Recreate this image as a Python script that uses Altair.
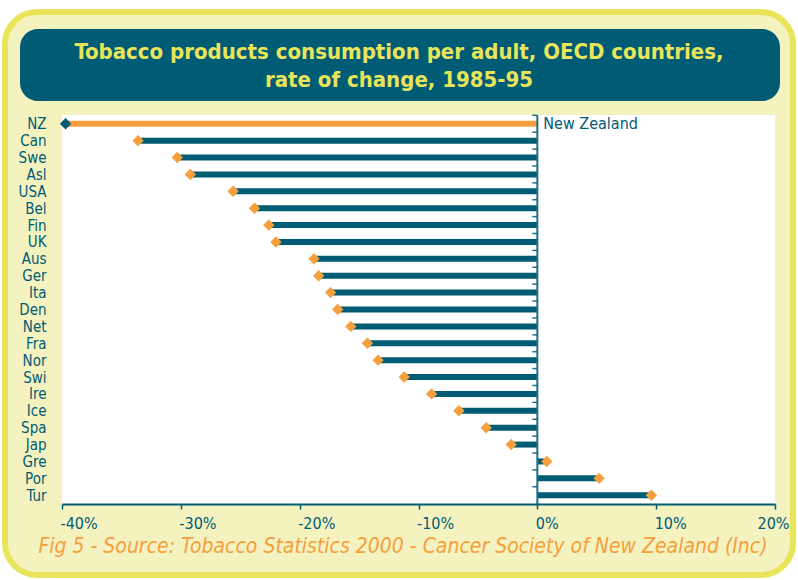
import altair as alt
import pandas as pd

countries = ["NZ", "Can", "Swe", "Asl", "USA", "Bel", "Fin", "UK", "Aus", "Ger", "Ita", "Den",
             "Net", "Fra", "Nor", "Swi", "Ire", "Ice", "Spa", "Jap", "Gre", "Por", "Tur"]
change = [-39.7, -33.6, -30.3, -29.2, -25.6, -23.8, -22.6, -22.0, -18.8, -18.4, -17.4, -16.8,
          -15.7, -14.3, -13.4, -11.2, -8.9, -6.6, -4.3, -2.2, 0.8, 5.2, 9.6]
x_ticks = [-40, -30, -20, -10, 0, 10, 20]

title_line1 = "Tobacco products consumption per adult, OECD countries,"
title_line2 = "rate of change, 1985-95"
caption = "Fig 5 - Source: Tobacco Statistics 2000 - Cancer Society of New Zealand (Inc)"
highlight_label = "New Zealand"

TEAL = "#005C74"
ORANGE = "#F6A03D"
YELLOW = "#E9E55B"
CREAM = "#F4F2BF"
FONT = "DejaVu Sans Condensed"

W, H = 713, 389

df = pd.DataFrame({"country": countries, "change": change})
df["nz"] = df["country"] == "NZ"
dummy = pd.DataFrame({"a": [0]})

ysc = alt.Scale(type="point", padding=0.52)
yenc = alt.Y("country:N", sort=countries, scale=ysc,
             axis=alt.Axis(title=None, domain=False, ticks=False, labelPadding=16,
                           labelFont=FONT, labelFontSize=15, labelColor=TEAL,
                           labelBaseline="middle", zindex=1))
xscale = alt.Scale(domain=[-40, 20], nice=False, zero=False)

outer = alt.Chart(dummy).mark_rect(fill=CREAM, stroke=YELLOW, strokeWidth=6, cornerRadius=32).encode(
    x=alt.value(-57), x2=alt.value(731), y=alt.value(-103), y2=alt.value(460))
title_box = alt.Chart(dummy).mark_rect(fill=TEAL, cornerRadius=18).encode(
    x=alt.value(-42), x2=alt.value(718), y=alt.value(-86), y2=alt.value(-14))
plot_bg = alt.Chart(dummy).mark_rect(fill="white").encode(
    x=alt.value(0), x2=alt.value(W), y=alt.value(0), y2=alt.value(H))

bars = alt.Chart(df).mark_rule(strokeWidth=6).encode(
    x=alt.X("change:Q", scale=xscale,
            axis=alt.Axis(title=None, values=x_ticks, grid=False, domainColor=TEAL, domainWidth=2,
                          tickColor=TEAL, tickSize=5, tickWidth=1.5, labelPadding=6,
                          labelFont=FONT, labelFontSize=16, labelColor=TEAL,
                          labelExpr="datum.value + '%'",
                          labelAlign=alt.condition("datum.value == 20", alt.value("center"), alt.value("left")),
                          labelOffset=-2, zindex=1)),
    x2=alt.datum(0),
    y=yenc,
    color=alt.condition("datum.nz", alt.value(ORANGE), alt.value(TEAL)),
)
zero_line = alt.Chart(dummy).mark_rule(color="#1F6F86", strokeWidth=2).encode(
    x=alt.datum(0), y=alt.value(0), y2=alt.value(H))
ticks = alt.Chart(df).mark_rule(color="#1F6F86", strokeWidth=1.5, xOffset=-5, yOffset=-8.45, y2Offset=-8.45).encode(
    x=alt.datum(0), x2=alt.datum(0), y=alt.Y("country:N", sort=countries))
diamonds = alt.Chart(df).mark_point(shape="diamond", filled=True, size=130, opacity=1).encode(
    x="change:Q", y=alt.Y("country:N", sort=countries),
    color=alt.condition("datum.nz", alt.value(TEAL), alt.value(ORANGE)),
)
nz_label = alt.Chart(df[df["nz"]]).mark_text(align="left", baseline="middle", font=FONT, fontSize=16,
                                             color=TEAL, text=highlight_label, dx=6).encode(
    x=alt.datum(0), y=alt.Y("country:N", sort=countries))

t1 = alt.Chart(dummy).mark_text(align="center", baseline="alphabetic", font=FONT, fontSize=22,
                                fontWeight="bold", color=YELLOW, text=title_line1).encode(
    x=alt.value(337), y=alt.value(-56))
t2 = alt.Chart(dummy).mark_text(align="center", baseline="alphabetic", font=FONT, fontSize=22,
                                fontWeight="bold", color=YELLOW, text=title_line2).encode(
    x=alt.value(337), y=alt.value(-28))
cap = alt.Chart(dummy).mark_text(align="center", baseline="alphabetic", font=FONT, fontSize=21,
                                 fontStyle="italic", color=ORANGE, text=caption).encode(
    x=alt.value(341), y=alt.value(438))

chart = alt.layer(outer, title_box, plot_bg, bars, zero_line, ticks, diamonds, nz_label, t1, t2, cap).properties(
    width=W, height=H,
    autosize=alt.AutoSizeParams(type="none"),
    padding={"left": 62, "top": 115, "right": 23, "bottom": 76},
    background="white",
).configure_view(stroke=None)

chart.save("out.html", embed_options={"renderer": "svg", "actions": False})
